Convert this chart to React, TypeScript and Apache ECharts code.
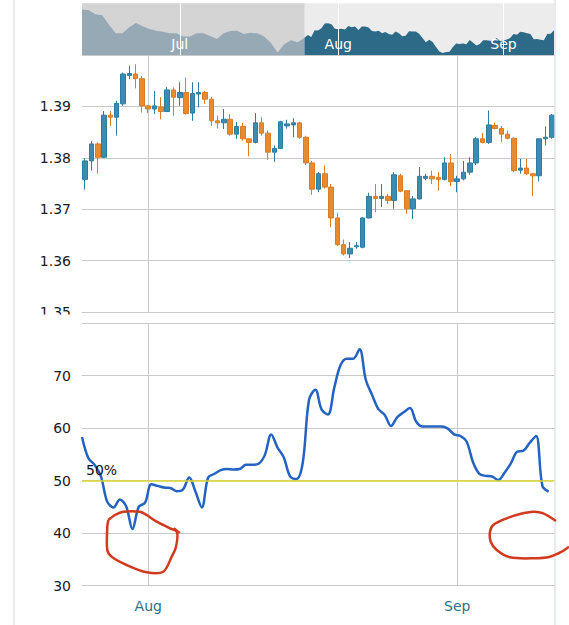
import React, { useEffect, useRef } from 'react';
import * as echarts from 'echarts';

// ---- candle data (open, close, low, high) ----
const opens = [
  1.3758, 1.3794, 1.3827, 1.3801, 1.3883, 1.3879, 1.3905, 1.3960, 1.3963, 1.3954,
  1.3901, 1.3895, 1.3899, 1.3890, 1.3932, 1.3917, 1.3927, 1.3887, 1.3924, 1.3927,
  1.3914, 1.3872, 1.3868, 1.3875, 1.3846, 1.3861, 1.3837, 1.3830, 1.3868, 1.3848,
  1.3811, 1.3818, 1.3862, 1.3864, 1.3868, 1.3840, 1.3790, 1.3739, 1.3769, 1.3743,
  1.3683, 1.3631, 1.3613, 1.3627, 1.3626, 1.3683, 1.3725, 1.3721, 1.3725, 1.3717,
  1.3765, 1.3736, 1.3701, 1.3720, 1.3760, 1.3764, 1.3762, 1.3758, 1.3790, 1.3754,
  1.3759, 1.3772, 1.3790, 1.3837, 1.3830, 1.3863, 1.3857, 1.3846, 1.3838, 1.3776,
  1.3780, 1.3769, 1.3765, 1.3837, 1.3840,
];
const closes = [
  1.3794, 1.3827, 1.3801, 1.3883, 1.3879, 1.3906, 1.3963, 1.3964, 1.3954, 1.3901,
  1.3895, 1.3901, 1.3890, 1.3932, 1.3918, 1.3927, 1.3886, 1.3925, 1.3927, 1.3914,
  1.3872, 1.3868, 1.3875, 1.3846, 1.3861, 1.3837, 1.3830, 1.3868, 1.3848, 1.3811,
  1.3818, 1.3870, 1.3866, 1.3868, 1.3840, 1.3790, 1.3739, 1.3769, 1.3743, 1.3683,
  1.3631, 1.3613, 1.3624, 1.3629, 1.3683, 1.3725, 1.3721, 1.3725, 1.3717, 1.3767,
  1.3735, 1.3701, 1.3720, 1.3764, 1.3764, 1.3759, 1.3758, 1.3790, 1.3754, 1.3759,
  1.3772, 1.3790, 1.3837, 1.3830, 1.3864, 1.3857, 1.3846, 1.3838, 1.3775, 1.3780,
  1.3769, 1.3765, 1.3837, 1.3840, 1.3883,
];
const lows = [
  1.3738, 1.3775, 1.3769, 1.3800, 1.3862, 1.3843, 1.3901, 1.3953, 1.3935, 1.3888,
  1.3887, 1.3885, 1.3875, 1.3889, 1.3882, 1.3901, 1.3884, 1.3872, 1.3898, 1.3905,
  1.3862, 1.3857, 1.3856, 1.3843, 1.3837, 1.3833, 1.3803, 1.3828, 1.3843, 1.3796,
  1.3792, 1.3817, 1.3857, 1.3840, 1.3837, 1.3786, 1.3728, 1.3733, 1.3740, 1.3665,
  1.3628, 1.3610, 1.3605, 1.3623, 1.3624, 1.3682, 1.3694, 1.3704, 1.3710, 1.3701,
  1.3733, 1.3691, 1.3681, 1.3719, 1.3756, 1.3749, 1.3736, 1.3756, 1.3745, 1.3733,
  1.3756, 1.3767, 1.3786, 1.3828, 1.3827, 1.3855, 1.3831, 1.3836, 1.3772, 1.3769,
  1.3767, 1.3726, 1.3754, 1.3824, 1.3837,
];
const highs = [
  1.3799, 1.3833, 1.3830, 1.3891, 1.3891, 1.3911, 1.3966, 1.3979, 1.3982, 1.3959,
  1.3903, 1.3930, 1.3918, 1.3938, 1.3937, 1.3947, 1.3956, 1.3947, 1.3947, 1.3930,
  1.3919, 1.3882, 1.3895, 1.3885, 1.3870, 1.3868, 1.3838, 1.3887, 1.3879, 1.3853,
  1.3824, 1.3872, 1.3874, 1.3877, 1.3870, 1.3843, 1.3794, 1.3772, 1.3785, 1.3749,
  1.3693, 1.3641, 1.3636, 1.3636, 1.3685, 1.3732, 1.3749, 1.3749, 1.3730, 1.3772,
  1.3769, 1.3737, 1.3726, 1.3782, 1.3769, 1.3775, 1.3772, 1.3801, 1.3807, 1.3765,
  1.3794, 1.3801, 1.3840, 1.3848, 1.3892, 1.3869, 1.3862, 1.3853, 1.3840, 1.3798,
  1.3798, 1.3770, 1.3837, 1.3861, 1.3885,
];

// month ticks on the candle axis
const monthTickIndex = [10, 59];
const monthTickLabels = ['Aug', 'Sep'];

// ---- lower indicator (percent) ----
const indicator = [
  58.3, 54.3, 53.0, 50.8, 46.0, 44.9, 46.4, 45.1, 40.8, 45.0,
  45.8, 49.3, 49.0, 48.7, 48.6, 48.0, 48.3, 50.6, 47.9, 44.9,
  50.6, 51.3, 52.0, 52.2, 52.1, 52.2, 53.0, 53.0, 53.2, 54.9,
  58.8, 56.3, 54.4, 50.8, 50.3, 53.4, 65.4, 67.3, 63.5, 62.6,
  67.7, 72.0, 73.2, 73.2, 75.0, 69.2, 66.3, 63.6, 62.5, 60.4,
  62.1, 63.0, 63.8, 61.2, 60.3, 60.3, 60.3, 60.3, 59.9, 58.8,
  58.5, 57.4, 53.5, 51.3, 50.9, 50.8, 50.1, 51.5, 53.3, 55.5,
  55.7, 57.2, 58.5, 49.0, 47.9,
];
const indicatorLevel = 50;
const indicatorLevelLabel = '50%';

// ---- navigator: earlier closes (every second bar) ----
const navEarly = [
  1.4126, 1.4119, 1.4072, 1.4060, 1.3947, 1.3846, 1.3846, 1.3916, 1.3967, 1.3928,
  1.3896, 1.3877, 1.3865, 1.3846, 1.3846, 1.3807, 1.3807, 1.3846, 1.3846, 1.3814,
  1.3779, 1.3846, 1.3873, 1.3877, 1.3838, 1.3853, 1.3846, 1.3807, 1.3736, 1.3619,
  1.3717, 1.3764, 1.3740,
];
const navTickIndex = [29, 76, 125];
const navTickLabels = ['Jul', 'Aug', 'Sep'];

const FONT = 'DejaVu Sans';

export default function App() {
  const ref = useRef<HTMLDivElement>(null);

  useEffect(() => {
    const chart = echarts.init(ref.current!, null, { renderer: 'svg' });

    const candleIds = opens.map((_, i) => 'c' + i);
    const earlyIds = navEarly.flatMap((_, i) => ['e' + 2 * i, 'e' + (2 * i + 1)]);
    const navIds = [...earlyIds, ...candleIds];
    const navGray: (number | null)[] = navEarly.flatMap((v) => [v, null]);
    navGray.push(closes[0]);
    const navTeal: (number | null)[] = earlyIds.map(() => null);
    navTeal.push(...closes);

    const candleData = opens.map((o, i) => [o, closes[i], lows[i], highs[i]]);
    const indData = indicator.map((v, i) => [i, v]);

    const monthInterval = (idx: number) => monthTickIndex.includes(idx);
    const gridLine = { color: '#c9c9c9', width: 1 };

    const option: any = {
      animation: false,
      backgroundColor: '#ffffff',
      textStyle: { fontFamily: FONT },
      grid: [
        { left: 82, right: 14, top: 55, height: 257 },
        { left: 82, right: 14, top: 323, height: 262.7 },
        { left: 82, right: 15, top: 3.3, height: 51.7, show: true, backgroundColor: '#ececec', borderWidth: 0 },
      ],
      xAxis: [
        {
          type: 'category', gridIndex: 0, data: candleIds, boundaryGap: true,
          axisLine: { show: false }, axisTick: { show: false }, axisLabel: { show: false },
          splitLine: { show: true, interval: monthInterval, alignWithLabel: true, lineStyle: gridLine },
        },
        {
          type: 'category', gridIndex: 1, data: candleIds, boundaryGap: true,
          axisLine: { show: false }, axisTick: { show: false },
          axisLabel: {
            interval: monthInterval,
            formatter: (_v: string, i: number) => monthTickLabels[monthTickIndex.indexOf(i)] ?? '',
            color: '#2e7089', fontSize: 14, fontFamily: FONT, margin: 13,
          },
          splitLine: { show: true, interval: monthInterval, alignWithLabel: true, lineStyle: gridLine },
        },
        { type: 'value', gridIndex: 1, min: 0, max: indicator.length, show: false },
        {
          type: 'category', gridIndex: 2, data: navIds, boundaryGap: false, z: 5,
          axisLine: { show: false }, axisTick: { show: false },
          axisLabel: {
            inside: true,
            interval: (i: number) => navTickIndex.includes(i),
            formatter: (_v: string, i: number) => navTickLabels[navTickIndex.indexOf(i)] ?? '',
            color: '#ffffff', fontSize: 14, fontFamily: FONT, margin: 4,
          },
          splitLine: { show: true, interval: (i: number) => navTickIndex.includes(i), lineStyle: { color: '#ffffff', width: 1 } },
        },
      ],
      yAxis: [
        {
          type: 'value', gridIndex: 0, min: 1.35, max: 1.4, interval: 0.01,
          axisLine: { show: false }, axisTick: { show: false },
          axisLabel: { formatter: (v: number) => v.toFixed(2), showMaxLabel: false, color: '#1a1a1a', fontSize: 14, fontFamily: FONT, margin: 11 },
          splitLine: { lineStyle: gridLine },
        },
        {
          type: 'value', gridIndex: 1, min: 30, max: 80, interval: 10,
          axisLine: { show: false }, axisTick: { show: false },
          axisLabel: { showMaxLabel: false, color: '#1a1a1a', fontSize: 14, fontFamily: FONT, margin: 11 },
          splitLine: { lineStyle: gridLine },
        },
        { type: 'value', gridIndex: 2, min: 1.359, max: 1.42, show: false },
      ],
      series: [
        {
          type: 'candlestick', xAxisIndex: 0, yAxisIndex: 0, data: candleData, barWidth: 5,
          itemStyle: { color: '#3a8db0', color0: '#ea8a2e', borderColor: '#2d7d9f', borderColor0: '#dc7b22', borderWidth: 1 },
        },
        {
          type: 'line', xAxisIndex: 2, yAxisIndex: 1, data: indData, showSymbol: false, smooth: 0.35,
          lineStyle: { color: '#2563c2', width: 2.5 },
          markLine: {
            silent: true, symbol: 'none',
            data: [{ yAxis: indicatorLevel }],
            lineStyle: { color: '#dcd530', width: 1.5, type: 'solid' },
            label: { formatter: indicatorLevelLabel, position: 'insideStartTop', color: '#111', fontSize: 14, fontFamily: FONT, distance: 4 },
          },
        },
        {
          type: 'line', xAxisIndex: 3, yAxisIndex: 2, data: navGray, connectNulls: true, showSymbol: false,
          lineStyle: { width: 0 }, areaStyle: { color: '#96a9b5', opacity: 1, origin: 'start' },
          markArea: { silent: true, itemStyle: { color: '#d4d4d4' }, data: [[{ xAxis: 0 }, { xAxis: earlyIds.length }]] },
        },
        {
          type: 'line', xAxisIndex: 3, yAxisIndex: 2, data: navTeal, showSymbol: false,
          lineStyle: { width: 0 }, areaStyle: { color: '#2c6a87', opacity: 1, origin: 'start' },
        },
      ],
      graphic: [
        { type: 'line', shape: { x1: 14, y1: 0, x2: 14, y2: 625 }, style: { stroke: '#dde6ec', lineWidth: 1.5 }, z: 50 },
        { type: 'line', shape: { x1: 555, y1: 0, x2: 555, y2: 625 }, style: { stroke: '#dde6ec', lineWidth: 1.5 }, z: 50 },
        { type: 'rect', shape: { x: 16, y: 314.5, width: 64, height: 8 }, style: { fill: '#ffffff' }, z: 50 },
        {
          type: 'polyline', z: 60,
          shape: {
            smooth: 0.3,
            points: [[108.3, 520], [115, 515], [123.3, 511.7], [140, 511.7], [146.7, 515], [156.7, 521.7], [170, 528.3], [177, 532], [176, 546.7], [171.7, 556.7], [163.3, 571.7], [146.7, 572.3], [126.7, 565], [111.7, 556.7], [107.3, 550], [107.3, 526.7], [108.3, 520]],
          },
          style: { stroke: '#d23a1e', lineWidth: 2.5, fill: null },
        },
        { type: 'line', z: 60, shape: { x1: 174, y1: 528, x2: 180, y2: 533 }, style: { stroke: '#d23a1e', lineWidth: 2 } },
        {
          type: 'polyline', z: 60,
          shape: {
            smooth: 0.3,
            points: [[556, 521], [543.3, 513.3], [533.3, 511.7], [520, 514], [506.7, 518.3], [493.3, 525], [490, 531.7], [490.7, 541.7], [496.7, 550], [510, 557.3], [533.3, 558.3], [550, 556.7], [561.7, 551.7], [569, 546.7]],
          },
          style: { stroke: '#d23a1e', lineWidth: 2.5, fill: null },
        },
      ],
    };

    chart.setOption(option);
    return () => chart.dispose();
  }, []);

  return <div ref={ref} style={{ position: 'fixed', left: 0, top: 0, width: 569, height: 625 }} />;
}
